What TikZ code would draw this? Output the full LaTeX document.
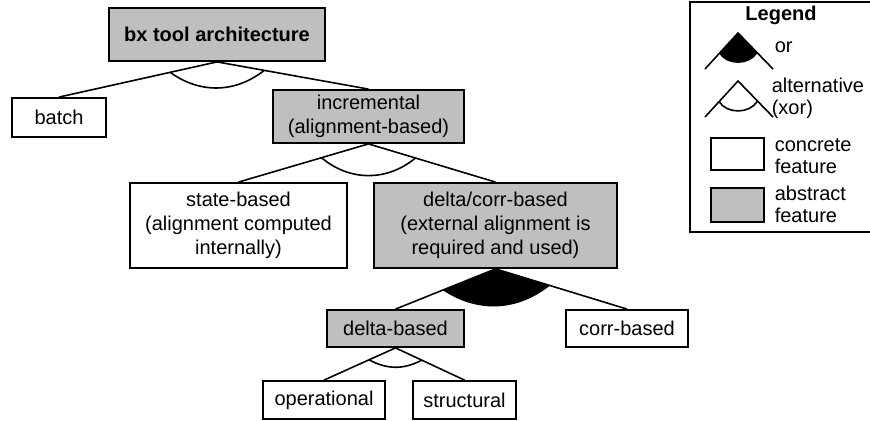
\documentclass[tikz,border=0pt]{standalone}
\usepackage{fontspec}
\setmainfont{Liberation Sans}
\usetikzlibrary{calc}

\begin{document}
\begin{tikzpicture}[x=0.5pt, y=-0.5pt, line width=0.8pt]
            \tikzset{
                feature/.style={
                        rectangle, draw, line width=0.9pt, align=center, inner sep=1pt
                    },
                abstract/.style={
                        feature, fill=gray!50
                    },
                legendtext/.style={
                        anchor=west, inner sep=0pt, align=left, font=\fontsize{10}{11}\selectfont
                    }
            }
            \useasboundingbox (0,0) rectangle (870,421);

            % Feature tree
            \node[abstract, minimum width=108pt, minimum height=26.5pt, font=\bfseries] (root) at (217,34.5) {bx tool architecture};
            \node[feature, minimum width=47pt, minimum height=19.5pt] (batch) at (59,117.5) {batch};
            \node[abstract, minimum width=95.5pt, minimum height=26.5pt] (incr) at (368.5,116.5) {incremental\\(alignment-based)};
            \node[feature, minimum width=108.5pt, minimum height=42.5pt] (state) at (238.5,225.5) {state-based\\(alignment computed\\internally)};
            \node[abstract, minimum width=121.5pt, minimum height=42.5pt] (dc) at (495.5,225.5) {delta/corr-based\\(external alignment is\\required and used)};
            \node[abstract, minimum width=68.5pt, minimum height=18.5pt] (delta) at (395.5,328.5) {delta-based};
            \node[feature, minimum width=61pt, minimum height=18.5pt] (corr) at (627,328.5) {corr-based};
            \node[feature, minimum width=61pt, minimum height=19pt] (oper) at (324,400) {operational};
            \node[feature, minimum width=51.5pt, minimum height=19pt] (struct) at (464.5,400) {structural};

            \draw (root.south) -- (batch.north);
            \draw (root.south) -- (incr.north);
            \draw (incr.south) -- (state.north);
            \draw (incr.south) -- (dc.north);
            \draw (dc.south) -- (delta.north);
            \draw (dc.south) -- (corr.north);
            \draw (delta.south) -- (oper.north);
            \draw (delta.south) -- (struct.north);

            % Group arcs
            \draw ($(root.south)!24pt!(batch.north)$) to[bend right=37] ($(root.south)!24pt!(incr.north)$);
            \draw ($(incr.south)!24.5pt!(state.north)$) to[bend right=40] ($(incr.south)!24.5pt!(dc.north)$);
            \fill (dc.south) -- ($(dc.south)!28.5pt!(delta.north)$) to[bend right=36] ($(dc.south)!28.5pt!(corr.north)$) -- cycle;
            \draw ($(delta.south)!14.5pt!(oper.north)$) to[bend right=28] ($(delta.south)!14.5pt!(struct.north)$);

            % Legend
            \draw[line width=0.9pt] (690,2) rectangle (872,232);
            \node[font=\bfseries] (legend) at (781,15) {Legend};

            \coordinate (ortop) at (738,33);
            \coordinate (orleft) at (705,69);
            \coordinate (orright) at (773,69);
            \draw (orleft) -- (ortop) -- (orright);
            \fill (ortop) -- ($(ortop)!14pt!(orleft)$) to[bend right=58] ($(ortop)!14pt!(orright)$) -- cycle;
            \node[legendtext] (ortext) at (774,47) {or};

            \coordinate (xortop) at (738,81);
            \coordinate (xorleft) at (705,117);
            \coordinate (xorright) at (773,117);
            \draw (xorleft) -- (xortop) -- (xorright);
            \draw ($(xortop)!14pt!(xorleft)$) to[bend right=58] ($(xortop)!14pt!(xorright)$);
            \node[legendtext] (xortext) at (771,98) {alternative\\(xor)};

            \node[feature, minimum width=26.5pt, minimum height=16pt] (concrete) at (737.5,154) {};
            \node[legendtext] (concretetext) at (774,156) {concrete\\feature};
            \node[abstract, minimum width=26.5pt, minimum height=17pt] (abstractbox) at (737.5,205) {};
            \node[legendtext] (abstracttext) at (774,204) {abstract\\feature};
        \end{tikzpicture}
\end{document}
